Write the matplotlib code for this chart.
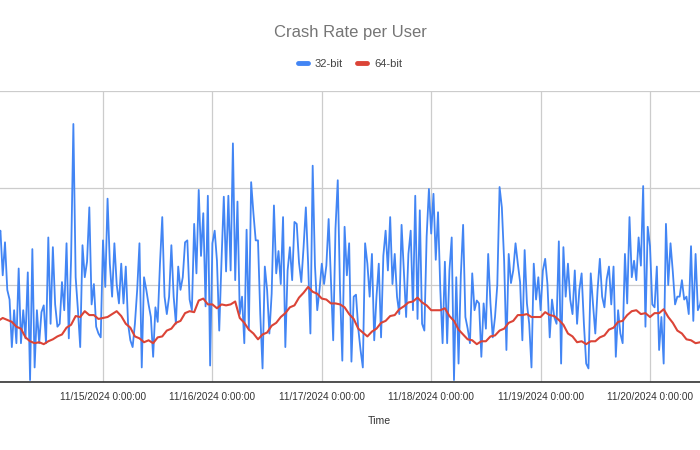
# Crash rate per user, 32-bit vs 64-bit

import pandas as pd
import matplotlib
matplotlib.use('Agg')
import matplotlib.pyplot as plt
import matplotlib.dates as mdates

# Step 1: Data (y in gridline units)
blue_start = '2024-11-14 01:00'
red_start = '2024-11-14 01:00'

crash_32 = [
    1.50,
    1.56, 1.10, 1.44, 0.95, 0.85, 0.36, 0.74, 0.40, 1.17, 0.40,
    0.74, 0.45, 1.13, 0.02, 1.37, 0.15, 0.74, 0.40, 0.72, 0.79,
    0.40, 1.49, 0.60, 1.39, 0.80, 0.57, 0.60, 1.03, 0.74, 1.43,
    0.45, 1.27, 2.66, 1.08, 0.74, 0.36, 1.41, 1.08, 1.24, 1.80,
    0.80, 1.01, 0.57, 0.50, 0.46, 1.46, 0.98, 1.89, 1.22, 0.88,
    1.43, 1.01, 0.81, 1.22, 0.81, 1.19, 0.60, 0.43, 0.36, 0.60,
    0.95,
    1.43, 0.15, 1.08, 0.95, 0.80, 0.67, 0.26, 0.77, 0.62, 1.22,
    1.70, 0.88, 0.70, 0.88, 1.41, 0.88, 0.60, 1.19, 0.95, 1.08,
    1.44, 1.46, 0.85, 0.74, 1.63, 1.12, 1.98, 1.30, 1.74, 0.78,
    1.92, 0.17, 1.43, 1.56, 1.25, 0.53, 1.25, 1.91, 1.14, 1.92,
    1.15, 2.46, 1.05, 1.86, 0.70, 0.88, 0.40, 1.57, 0.54, 2.06,
    1.74, 1.46, 1.46, 0.70, 0.14, 1.19, 0.95, 0.50, 0.91, 1.82,
    1.12,
    1.35, 1.01, 1.70, 0.36, 1.15, 1.39, 1.05, 1.65, 1.63, 1.23,
    1.03, 1.39, 1.80, 1.22, 0.50, 2.23, 1.20, 0.74, 0.95, 1.22,
    1.01, 1.20, 1.68, 1.05, 0.43, 1.58, 2.08, 0.95, 0.22, 1.60,
    1.10, 1.43, 0.21, 0.88, 0.90, 0.55, 0.33, 0.15, 1.43, 1.22,
    0.88, 1.32, 0.43, 0.88, 1.22, 0.46, 1.30, 1.56, 1.15, 1.70,
    1.01, 1.32, 0.88, 0.70, 1.62, 1.15, 0.67, 1.32, 1.56, 0.74,
    1.92,
    0.65, 1.77, 0.60, 0.53, 1.50, 1.99, 1.53, 1.94, 1.26, 1.75,
    0.95, 0.40, 1.24, 0.40, 1.15, 1.49, 0.02, 1.08, 0.19, 1.10,
    1.62, 0.67, 0.55, 0.40, 1.12, 0.74, 0.84, 0.81, 0.26, 0.81,
    0.55, 1.32, 0.81, 0.46, 0.67, 1.00, 2.01, 1.80, 1.25, 0.33,
    1.32, 1.02, 1.15, 1.43, 1.22, 1.03, 0.43, 1.36, 0.81, 0.60,
    0.15, 1.22, 0.85, 1.08, 0.74, 1.15, 1.27, 1.01, 0.46, 0.85,
    0.67, 0.60,
    1.45, 0.19, 1.39, 0.88, 1.22, 0.85, 0.70, 1.15, 0.60, 0.95,
    1.12, 0.60, 0.19, 0.14, 1.12, 0.80, 0.50, 0.95, 1.27, 0.88,
    0.77, 1.06, 1.19, 0.80, 1.19, 0.26, 0.74, 0.50, 0.40, 1.32,
    0.81, 1.70, 1.08, 1.25, 1.05, 1.49, 1.20, 2.02, 0.57, 1.60,
    1.40, 0.80, 0.77, 1.19, 0.33, 0.67, 0.19, 1.63, 1.00, 1.43,
    1.14, 0.80, 0.88, 0.88, 1.05, 0.85, 0.88, 0.70, 1.40, 0.63,
    1.32, 0.74, 0.80, 0.95,
]

crash_64 = [
    0.63, 0.66, 0.64, 0.62, 0.57, 0.55, 0.46, 0.42, 0.40, 0.41,
    0.39, 0.42, 0.44, 0.47, 0.49, 0.56, 0.59, 0.68, 0.67, 0.73,
    0.69, 0.69, 0.65, 0.66, 0.67, 0.70, 0.73, 0.68, 0.60, 0.56,
    0.47, 0.45, 0.41, 0.43, 0.40, 0.46, 0.47, 0.53, 0.55, 0.61,
    0.63, 0.71, 0.73, 0.72, 0.84, 0.86, 0.80, 0.80, 0.76, 0.80,
    0.79, 0.80, 0.83, 0.66, 0.61, 0.54, 0.50, 0.44, 0.49, 0.51,
    0.58, 0.61, 0.67, 0.71, 0.77, 0.79, 0.87, 0.92, 0.98, 0.93,
    0.91, 0.86, 0.85, 0.81, 0.81, 0.80, 0.77, 0.70, 0.65, 0.55,
    0.51, 0.47, 0.52, 0.55, 0.61, 0.63, 0.68, 0.69, 0.75, 0.78,
    0.82, 0.83, 0.87, 0.82, 0.79, 0.74, 0.74, 0.74, 0.76, 0.68,
    0.63, 0.54, 0.49, 0.44, 0.43, 0.39, 0.42, 0.42, 0.47, 0.48,
    0.53, 0.55, 0.61, 0.63, 0.69, 0.69, 0.70, 0.67, 0.67, 0.67,
    0.72, 0.69, 0.68, 0.64, 0.59, 0.50, 0.47, 0.41, 0.42, 0.39,
    0.42, 0.42, 0.46, 0.48, 0.54, 0.56, 0.62, 0.63, 0.69, 0.73,
    0.74, 0.70, 0.71, 0.67, 0.71, 0.71, 0.75, 0.67, 0.61, 0.53,
    0.50, 0.44, 0.43, 0.40, 0.41,
]

tick_days = ['2024-11-15', '2024-11-16', '2024-11-17',
             '2024-11-18', '2024-11-19', '2024-11-20']
tick_labels = ['11/15/2024 0:00:00', '11/16/2024 0:00:00', '11/17/2024 0:00:00',
               '11/18/2024 0:00:00', '11/19/2024 0:00:00', '11/20/2024 0:00:00']

# Step 2: Time axis for each series
t32 = pd.date_range(blue_start, periods=len(crash_32), freq='30min')
t64 = pd.date_range(red_start, periods=len(crash_64), freq='h')

# Step 3: Plot
plt.rcParams['font.family'] = ['Liberation Sans', 'DejaVu Sans']
fig = plt.figure(figsize=(7, 4.5), dpi=100)
ax = fig.add_axes([0, 1 - 382 / 450, 1, (382 - 91) / 450])

ax.plot(t32, crash_32, color='#4285F4', lw=1.3, label='32-bit', solid_joinstyle='round')
ax.plot(t64, crash_64, color='#DB4437', lw=1.5, label='64-bit', solid_joinstyle='round')

x0 = mdates.date2num(pd.Timestamp('2024-11-15'))
ax.set_xlim(x0 - 103 / 109.4, x0 + 597 / 109.4)
ax.set_ylim(0, 3)

ax.set_xticks([mdates.date2num(pd.Timestamp(d)) for d in tick_days])
ax.set_xticklabels(tick_labels, fontsize=7.2, color='#333333')
ax.set_yticks([0, 1, 2, 3])
ax.set_yticklabels([])
ax.tick_params(length=0, pad=7)
ax.grid(True, color='#cccccc', lw=0.9)
ax.set_axisbelow(True)

for s in ['left', 'right', 'top']:
    ax.spines[s].set_visible(False)
ax.spines['bottom'].set_color('#333333')
ax.spines['bottom'].set_linewidth(1.2)

fig.text(0.5, 1 - 33 / 450, 'Crash Rate per User', ha='center', va='center',
         fontsize=12, color='#757575')
fig.text(379 / 700, 1 - 421 / 450, 'Time', ha='center', va='center',
         fontsize=7.6, color='#333333')

leg = fig.legend(loc='center', bbox_to_anchor=(0.5, 1 - 64 / 450), ncol=2,
                 frameon=False, fontsize=8, handlelength=0.9, handletextpad=0.6,
                 columnspacing=1.3, labelcolor='#444444')
for line in leg.get_lines():
    line.set_linewidth(3.5)
    line.set_solid_capstyle('round')

plt.savefig('out.png', dpi=100)
